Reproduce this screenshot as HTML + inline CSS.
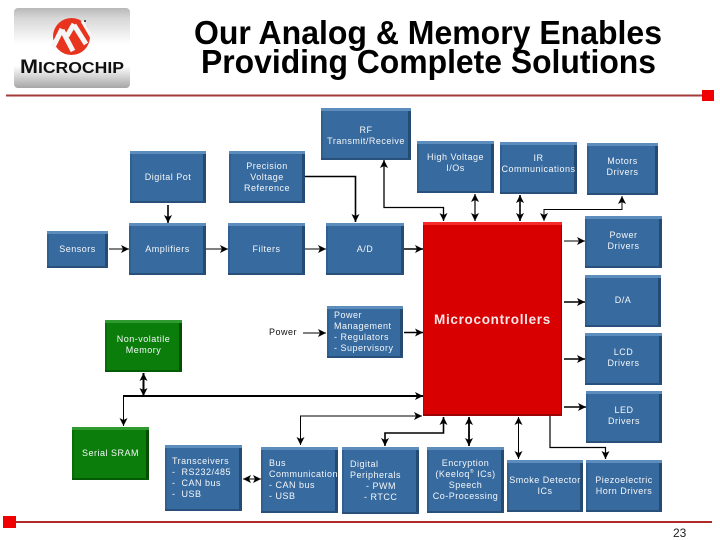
<!DOCTYPE html>
<html>
<head>
<meta charset="utf-8">
<style>
html,body{margin:0;padding:0;background:#fff}
#p{position:relative;width:720px;height:540px;overflow:hidden;background:#fff;font-family:"Liberation Sans",sans-serif}
svg{position:absolute;left:0;top:0}
.b{position:absolute;box-sizing:border-box;display:flex;flex-direction:column;justify-content:center;align-items:center;text-align:center;color:#f4f7fa;font-size:9px;line-height:11px;letter-spacing:.5px;white-space:nowrap;background:#376a9e;box-shadow:inset 0 3px 0 #5c8dbd,inset 0 -2px 0 #28507a,inset 2px 0 0 #30608f,inset -3px 0 0 #264b72}
.g{background:#0a7d0a;box-shadow:inset 0 3px 0 #2f9a2f,inset 0 -2px 0 #055a05,inset 2px 0 0 #086d08,inset -3px 0 0 #054f05}
.l{align-items:flex-start;text-align:left}
.t{position:absolute;white-space:nowrap}
</style>
</head>
<body>
<div id="p">

<div class="b" style="left:321px;top:108px;width:90px;height:52px;padding-top:3px"><div>RF<br>Transmit/Receive</div></div>
<div class="b" style="left:130px;top:151px;width:76px;height:52px"><div>Digital Pot</div></div>
<div class="b" style="left:229px;top:151px;width:76px;height:52px"><div>Precision<br>Voltage<br>Reference</div></div>
<div class="b" style="left:47px;top:231px;width:61px;height:37px"><div>Sensors</div></div>
<div class="b" style="left:129px;top:223px;width:77px;height:52px"><div>Amplifiers</div></div>
<div class="b" style="left:228px;top:223px;width:77px;height:52px"><div>Filters</div></div>
<div class="b" style="left:326px;top:223px;width:78px;height:52px"><div>A/D</div></div>
<div class="b" style="left:417px;top:141px;width:77px;height:52px;padding-bottom:8px"><div>High Voltage<br>I/Os</div></div>
<div class="b" style="left:500px;top:142px;width:77px;height:52px;padding-bottom:8px"><div>IR<br>Communications</div></div>
<div class="b" style="left:587px;top:143px;width:71px;height:52px;padding-bottom:5px"><div>Motors<br>Drivers</div></div>
<div class="b" style="left:585px;top:216px;width:77px;height:52px;padding-bottom:3px"><div>Power<br>Drivers</div></div>
<div class="b" style="left:585px;top:275px;width:76px;height:52px;padding-bottom:2px"><div>D/A</div></div>
<div class="b" style="left:585px;top:333px;width:77px;height:52px;padding-bottom:2px"><div>LCD<br>Drivers</div></div>
<div class="b" style="left:586px;top:391px;width:76px;height:52px;padding-bottom:2px"><div>LED<br>Drivers</div></div>
<div class="b l" style="left:327px;top:306px;width:76px;height:52px;padding-left:7px"><div>Power<br>Management<br>- Regulators<br>- Supervisory</div></div>
<div class="b g" style="left:105px;top:320px;width:77px;height:52px;padding-bottom:3px"><div>Non-volatile<br>Memory</div></div>
<div class="b g" style="left:72px;top:427px;width:77px;height:53px;padding-bottom:1px"><div>Serial SRAM</div></div>
<div class="b l" style="left:165px;top:445px;width:77px;height:66px;padding-left:7px"><div>Transceivers<br>- &nbsp;RS232/485<br>- &nbsp;CAN bus<br>- &nbsp;USB</div></div>
<div class="b l" style="left:261px;top:447px;width:77px;height:66px;padding-left:8px"><div>Bus<br>Communication<br>- CAN bus<br>- USB</div></div>
<div class="b l" style="left:342px;top:447px;width:77px;height:67px;padding-left:8px"><div>Digital<br>Peripherals<br><span style="display:block;margin-left:16px">- PWM</span><span style="display:block;margin-left:14px">- RTCC</span></div></div>
<div class="b" style="left:427px;top:447px;width:77px;height:66px"><div>Encryption<br>(Keeloq<sup style="font-size:5px;line-height:0">®</sup> ICs)<br>Speech<br>Co-Processing</div></div>
<div class="b" style="left:507px;top:460px;width:76px;height:52px"><div>Smoke Detector<br>ICs</div></div>
<div class="b" style="left:586px;top:460px;width:76px;height:52px"><div>Piezoelectric<br>Horn Drivers</div></div>

<div style="position:absolute;left:423px;top:222px;width:139px;height:194px;box-sizing:border-box;background:#d80000;box-shadow:inset 0 3px 0 #f52a2a,inset 0 -2px 0 #9c0505,inset 1px 0 0 #c00000,inset -1px 0 0 #a00000"></div>
<div class="t" style="left:434px;top:312px;color:#f6e6e6;font-size:13.5px;line-height:16px;font-weight:bold;letter-spacing:.7px">Microcontrollers</div>

<div class="t" style="left:269px;top:327px;color:#111;font-size:9px;line-height:11px;letter-spacing:.5px">Power</div>

<svg width="720" height="540" viewBox="0 0 720 540">
<defs>
<linearGradient id="lg" x1="0" y1="0" x2="0" y2="1">
<stop offset="0" stop-color="#b8b8b8"/>
<stop offset=".12" stop-color="#d6d6d6"/>
<stop offset=".45" stop-color="#ffffff"/>
<stop offset=".72" stop-color="#ffffff"/>
<stop offset="1" stop-color="#a6a6a6"/>
</linearGradient>
<marker id="a" markerUnits="userSpaceOnUse" markerWidth="9" markerHeight="9" refX="8" refY="4.5" orient="auto-start-reverse">
<path d="M0 .5L8 4.5L0 8.5L2 4.5Z" fill="#000"/>
</marker>
</defs>

<rect x="14" y="8" width="116" height="80" rx="4" fill="url(#lg)"/>
<circle cx="71.5" cy="36.5" r="18.5" fill="#e8331f"/>
<path d="M62 30L73 51M74 25L86 44M62 29L53 47M74 24L67 36" fill="none" stroke="#f6f6f6" stroke-width="5"/>
<path d="M82 21L92 38" fill="none" stroke="#f6f6f6" stroke-width="3"/>
<circle cx="85" cy="21" r="1" fill="#222"/>
<text x="20" y="73" textLength="104" lengthAdjust="spacingAndGlyphs" font-family="Liberation Sans" font-weight="bold" font-size="19" fill="#111">M<tspan font-size="15.5">ICROCHIP</tspan></text>

<text x="194" y="44" textLength="468" lengthAdjust="spacingAndGlyphs" font-family="Liberation Sans" font-weight="bold" font-size="33" fill="#000">Our Analog &amp; Memory Enables</text>
<text x="201" y="73" textLength="455" lengthAdjust="spacingAndGlyphs" font-family="Liberation Sans" font-weight="bold" font-size="33" fill="#000">Providing Complete Solutions</text>

<rect x="6" y="94.5" width="696" height="2" fill="#a33a3a"/>
<rect x="702" y="90" width="12" height="11" fill="#f00000"/>
<rect x="16" y="521" width="696" height="2" fill="#b02a2a"/>
<rect x="3" y="516" width="13" height="12" fill="#f00000"/>
<text x="673" y="537" font-family="Liberation Sans" font-size="12" fill="#222">23</text>

<g fill="none" stroke="#000">
<g stroke-width="1.6">
<path d="M168 205V223" marker-end="url(#a)"/>
<path d="M109 249H129" stroke-width="1" marker-end="url(#a)"/>
<path d="M206 249H228" stroke-width="1" marker-end="url(#a)"/>
<path d="M305 249H326" stroke-width="1" marker-end="url(#a)"/>
<path d="M404 249H423" marker-end="url(#a)"/>
<path d="M305 176.5H355.5V222" marker-end="url(#a)"/>
<path d="M443.5 221V207.5H384V160" stroke-width="1.3" marker-start="url(#a)" marker-end="url(#a)"/>
<path d="M475 194V221" stroke-width="1.2" marker-start="url(#a)" marker-end="url(#a)"/>
<path d="M520 195V221" marker-start="url(#a)" marker-end="url(#a)"/>
<path d="M622 196V209.5H544V221" stroke-width="1" marker-start="url(#a)" marker-end="url(#a)"/>
<path d="M564 241H585" stroke-width="1" marker-end="url(#a)"/>
<path d="M564 302H585" marker-end="url(#a)"/>
<path d="M564 359H585" marker-end="url(#a)"/>
<path d="M564 407H586" marker-end="url(#a)"/>
<path d="M303 333H326" stroke-width="1" marker-end="url(#a)"/>
<path d="M404 332.5H423" marker-end="url(#a)"/>
<path d="M123 396H423" stroke-width="2" marker-end="url(#a)"/>
<path d="M143.5 373V396" stroke-width="2" marker-start="url(#a)" marker-end="url(#a)"/>
<path d="M123.5 396V426" stroke-width="1" marker-end="url(#a)"/>
<path d="M422 416H300.5V445" stroke-width="1" marker-start="url(#a)" marker-end="url(#a)"/>
<path d="M243 479H261" stroke-width="1" marker-start="url(#a)" marker-end="url(#a)"/>
<path d="M385 446V433H443.5V417" stroke-width="1.6" marker-start="url(#a)" marker-end="url(#a)"/>
<path d="M469 417V446" stroke-width="1.8" marker-start="url(#a)" marker-end="url(#a)"/>
<path d="M518.5 417V459" stroke-width="1" marker-start="url(#a)" marker-end="url(#a)"/>
<path d="M550 416V447.5H605.5V459" stroke-width="1.2" marker-end="url(#a)"/>
</g>
</g>
</svg>
</div>
</body>
</html>
